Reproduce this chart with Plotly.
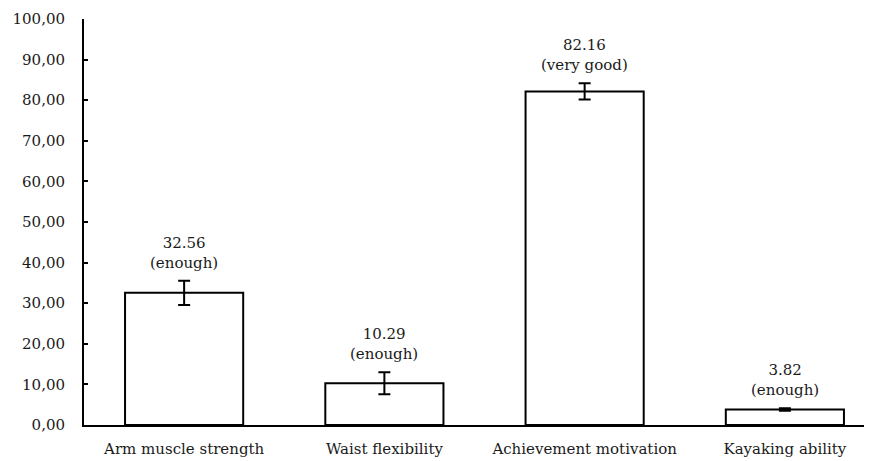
import plotly.graph_objects as go

categories = ["Arm muscle strength", "Waist flexibility", "Achievement motivation", "Kayaking ability"]
means = [32.56, 10.29, 82.16, 3.82]
errors = [3.0, 2.7, 2.0, 0.3]
ratings = ["enough", "enough", "very good", "enough"]

FONT = "DejaVu Serif"

fig = go.Figure()
fig.add_trace(go.Bar(
    x=categories, y=means, width=0.59,
    marker=dict(color="white", line=dict(color="black", width=2)),
    error_y=dict(type="data", array=errors, visible=True, color="black", thickness=2, width=6),
    showlegend=False,
))

for c, m, e, r in zip(categories, means, errors, ratings):
    fig.add_annotation(
        x=c, y=m + e, text=f"{m:.2f}<br>({r})", showarrow=False,
        yanchor="bottom", yshift=7,
        font=dict(family=FONT, size=15, color="#1a1a1a"),
    )

# page body has an 8px default margin, so the figure is sized to fill the rest
fig.update_layout(
    width=864, height=453,
    margin=dict(l=76, r=0, t=11, b=36),
    plot_bgcolor="white", paper_bgcolor="white",
    font=dict(family=FONT, size=15, color="#1a1a1a"),
    separators=", ",
    bargap=0.41,
)
fig.update_xaxes(
    range=[-0.5, 3.435], showline=True, linecolor="black", linewidth=2,
    showgrid=False, ticks="", zeroline=False, automargin=False,
    ticklabelstandoff=9,
)
fig.update_yaxes(
    range=[0, 100], dtick=10, tickformat=".2f", showline=True, linecolor="black",
    linewidth=2, ticks="inside", ticklen=4, tickwidth=2, tickcolor="black",
    showgrid=False, zeroline=False, ticklabelstandoff=14, automargin=False,
)

fig.write_html("out.html")
